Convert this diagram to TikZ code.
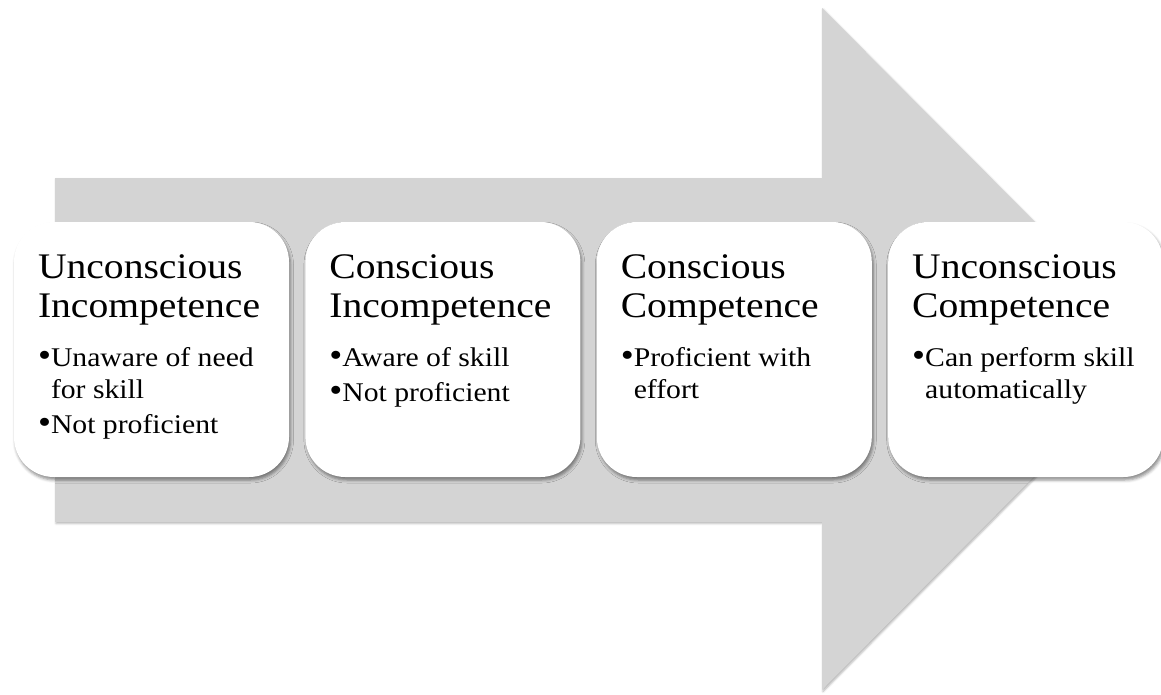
\documentclass[tikz,border=0pt]{standalone}
\usepackage{fontspec}
\setmainfont{Liberation Serif}[FakeStretch=1.1]
\usetikzlibrary{positioning,shadows.blur}

\definecolor{arrowgray}{RGB}{212,212,212}
\newcommand{\stack}[1]{\begin{tabular}[t]{@{}l@{}}#1\end{tabular}}
\newcommand{\itm}[1]{\makebox[13pt][l]{\raisebox{0.5pt}{\scalebox{1.25}{\textbullet}}}#1}
\newcommand{\cnt}[1]{\hspace*{13pt}#1}

\begin{document}
\begin{tikzpicture}[x=1pt, y=-1pt,
    stage/.style={fill=white, rounded corners=40pt, minimum width=275pt,
        minimum height=255pt, inner sep=0pt,
        blur shadow={shadow xshift=1.5pt, shadow yshift=-3pt,
            shadow blur radius=3pt, shadow opacity=45}},
    heading/.style={anchor=base west, inner sep=0pt,
        font=\fontsize{36}{39}\selectfont},
    points/.style={anchor=base west, inner sep=0pt,
        font=\fontsize{27}{32}\selectfont}]
    \useasboundingbox (0,0) rectangle (1161,694);

    % the big arrow behind the stages
    \fill[arrowgray, blur shadow={shadow xshift=1pt, shadow yshift=-1.5pt,
            shadow blur radius=2pt, shadow opacity=30}]
        (55,178) -- (822,178) -- (822,8) -- (1161,349) --
        (822,690) -- (822,522) -- (55,522) -- cycle;

    % the four stages
    \node[stage] (s1) at (151.5,349.5) {};
    \node[stage, right=16pt of s1] (s2) {};
    \node[stage, right=16pt of s2] (s3) {};
    \node[stage, right=16pt of s3] (s4) {};

    \node[heading] (h1) at ([xshift=24pt, yshift=-57pt]s1.north west)
        {\stack{Unconscious\\Incompetence}};
    \node[points] (p1) at ([xshift=24pt, yshift=-145pt]s1.north west)
        {\stack{\itm{Unaware of need}\\\cnt{for skill}\\[3pt]\itm{Not proficient}}};

    \node[heading] (h2) at ([xshift=24pt, yshift=-57pt]s2.north west)
        {\stack{Conscious\\Incompetence}};
    \node[points] (p2) at ([xshift=24pt, yshift=-145pt]s2.north west)
        {\stack{\itm{Aware of skill}\\[3pt]\itm{Not proficient}}};

    \node[heading] (h3) at ([xshift=24pt, yshift=-57pt]s3.north west)
        {\stack{Conscious\\Competence}};
    \node[points] (p3) at ([xshift=24pt, yshift=-145pt]s3.north west)
        {\stack{\itm{Proficient with}\\\cnt{effort}}};

    \node[heading] (h4) at ([xshift=24pt, yshift=-57pt]s4.north west)
        {\stack{Unconscious\\Competence}};
    \node[points] (p4) at ([xshift=24pt, yshift=-145pt]s4.north west)
        {\stack{\itm{Can perform skill}\\\cnt{automatically}}};
\end{tikzpicture}
\end{document}
